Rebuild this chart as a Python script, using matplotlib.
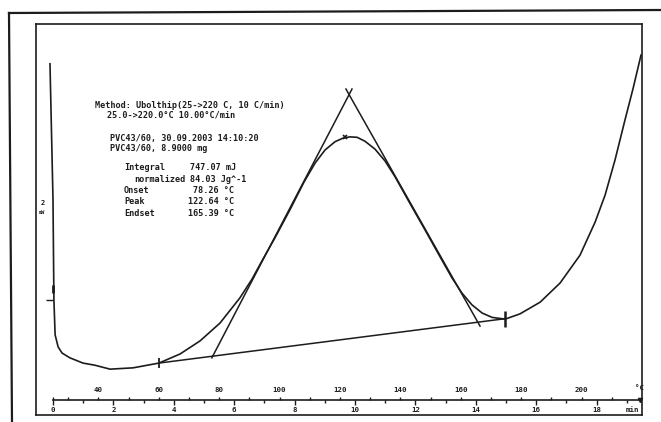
import matplotlib
matplotlib.use("Agg")
import matplotlib.pyplot as plt
from matplotlib.lines import Line2D

# ---------------- data (time in min, heat flow in mW) ----------------
time_min = [-0.10, 0.00, 0.03, 0.07, 0.17, 0.30, 0.56, 0.99, 1.39, 1.89, 2.65,
            3.51, 4.21, 4.87, 5.53, 6.19, 6.59, 6.92, 7.35, 7.85, 8.31, 8.68,
            9.01, 9.34, 9.60, 9.83, 10.07, 10.33, 10.66, 10.99, 11.32, 11.82,
            12.32, 12.81, 13.21, 13.54, 13.87, 14.21, 14.54, 14.97, 15.46, 16.13,
            16.79, 17.45, 17.95, 18.28, 18.61, 18.94, 19.21, 19.47]
heat_flow_mW = [5.43, 2.30, 0.00, -0.80, -1.08, -1.22, -1.33, -1.45, -1.50, -1.59, -1.56,
                -1.45, -1.24, -0.94, -0.53, 0.05, 0.48, 0.90, 1.43, 2.08, 2.71, 3.15,
                3.45, 3.64, 3.72, 3.75, 3.74, 3.65, 3.47, 3.20, 2.84, 2.22,
                1.61, 1.00, 0.51, 0.16, -0.11, -0.30, -0.40, -0.44, -0.32, -0.05,
                0.39, 1.03, 1.79, 2.41, 3.22, 4.14, 4.87, 5.63]

baseline_t = [3.51, 14.97]
baseline_mW = [-1.45, -0.43]
tangent_left_t = [5.26, 9.90]
tangent_left_mW = [-1.33, 4.85]
tangent_right_t = [9.70, 14.14]
tangent_right_mW = [4.85, -0.60]
peak_t, peak_mW = 9.67, 3.74
start_t, start_mW = 0.00, 0.00

time_ticks = list(range(0, 20, 2))
time_minor = list(range(1, 20, 2))
temp_ticks = [25] + list(range(30, 220, 10))
temp_labels = ["" if (T % 20 or T < 40 or T > 200) else str(T) for T in temp_ticks]

method_lines = ["Method: Ubolthip(25->220 C, 10 C/min)",
                "25.0->220.0\u00b0C 10.00\u00b0C/min"]
sample_lines = ["PVC43/60, 30.09.2003 14:10:20",
                "PVC43/60, 8.9000 mg"]
result_names = ["Integral", "normalized", "Onset", "Peak", "Endset"]
result_values = ["747.07 mJ", "84.03 Jg^-1", "78.26 \u00b0C", "122.64 \u00b0C", "165.39 \u00b0C"]

# ---------------- layout ----------------
W, H = 661, 422
fig = plt.figure(figsize=(W / 100, H / 100), dpi=100)
fig.patch.set_facecolor("white")

def fx(px):
    return px / W

def fy(py):
    return 1 - py / H

ink = "#1c1c1c"
mono = "DejaVu Sans Mono"

# outer frame
fig.add_artist(Line2D([fx(9), fx(12)], [fy(13), fy(422)], transform=fig.transFigure,
                      color=ink, lw=1.6))
fig.add_artist(Line2D([fx(9), fx(661)], [fy(13), fy(10)], transform=fig.transFigure,
                      color=ink, lw=1.6))

# main axes = inner frame
ax = fig.add_axes([fx(36), fy(415), fx(642) - fx(36), fy(24) - fy(415)])
xlim = (-0.563, 19.503)
ax.set_xlim(*xlim)
ax.set_ylim(-2.644, 6.345)
ax.set_xticks([])
ax.set_yticks([])
for s in ax.spines.values():
    s.set_color(ink)
    s.set_linewidth(1.2)

ax.plot(time_min, heat_flow_mW, color=ink, lw=1.2, solid_joinstyle="round")
ax.plot(baseline_t, baseline_mW, color=ink, lw=1.1)
ax.plot(tangent_left_t, tangent_left_mW, color=ink, lw=1.1)
ax.plot(tangent_right_t, tangent_right_mW, color=ink, lw=1.1)
ax.plot(baseline_t[0], baseline_mW[0], marker="|", ms=7, mew=1.3, color=ink)
ax.plot(baseline_t[1], baseline_mW[1], marker="|", ms=11, mew=1.8, color=ink)
ax.plot(peak_t, peak_mW, marker="x", ms=3.5, mew=1.2, color=ink)
ax.plot(start_t, start_mW, marker=0, ms=5, mew=1.0, color=ink)
ax.plot(start_t, start_mW + 0.25, marker="|", ms=6, mew=2.0, color=ink)

# scale bar label
fig.text(fx(43), fy(203), "2", fontsize=5, family=mono, weight="bold", ha="center",
         va="center", color=ink)
fig.text(fx(42), fy(212), "mW", fontsize=3.8, family=mono, ha="center", va="center", color=ink,
         weight="bold")

# annotation text block
fs = 6.1
fig.text(fx(95), fy(105), method_lines[0], fontsize=fs, family=mono, weight="bold",
         va="center", color=ink)
fig.text(fx(107), fy(115), method_lines[1], fontsize=fs, family=mono, weight="bold",
         va="center", color=ink)
fig.text(fx(110), fy(138), sample_lines[0], fontsize=fs, family=mono, weight="bold",
         va="center", color=ink)
fig.text(fx(110), fy(148), sample_lines[1], fontsize=fs, family=mono, weight="bold",
         va="center", color=ink)
name_x = [124, 134, 124, 124, 124]
val_x = [190, 190, 193, 188, 188]
row_y = [168, 179, 191, 202, 213]
for nm, vl, nx, vx, ry in zip(result_names, result_values, name_x, val_x, row_y):
    fig.text(fx(nx), fy(ry), nm, fontsize=fs, family=mono, weight="bold", va="center", color=ink)
    fig.text(fx(vx), fy(ry), vl, fontsize=fs, family=mono, weight="bold", va="center", color=ink)

# dual scale axis (time below, temperature above)
sax = fig.add_axes([fx(36), fy(400), fx(642) - fx(36), 1e-4])
sax.set_xlim(*xlim)
sax.patch.set_visible(False)
for k in ("top", "left", "right"):
    sax.spines[k].set_visible(False)
sax.spines["bottom"].set_bounds(0, 19.45)
sax.spines["bottom"].set_color(ink)
sax.spines["bottom"].set_linewidth(1.2)
sax.set_yticks([])
sax.set_xticks(time_ticks, labels=[str(t) for t in time_ticks])
sax.set_xticks(time_minor, minor=True)
sax.tick_params(axis="x", which="major", direction="out", length=3.6, width=1.0,
                pad=1.2, labelsize=5.3, colors=ink)
sax.tick_params(axis="x", which="minor", direction="out", length=2.0, width=1.0, colors=ink)
for lab in sax.get_xticklabels():
    lab.set_family(mono)
    lab.set_weight("bold")

tax = sax.secondary_xaxis("top", functions=(lambda t: 25 + 10 * t, lambda T: (T - 25) / 10))
tax.set_xticks(temp_ticks, labels=temp_labels)
tax.tick_params(axis="x", direction="out", length=2.2, width=1.0, pad=2.5, labelsize=5.3,
                colors=ink)
tax.spines["top"].set_visible(False)
for lab in tax.get_xticklabels():
    lab.set_family(mono)
    lab.set_weight("bold")

sax.plot(19.44, 0, marker="v", ms=3, color=ink, clip_on=False,
         transform=sax.get_xaxis_transform())
fig.text(fx(632), fy(410), "min", fontsize=5.3, family=mono, weight="bold", ha="center",
         va="center", color=ink)
fig.text(fx(639), fy(388), "\u00b0C", fontsize=5.3, family=mono, weight="bold", ha="center",
         va="center", color=ink)

fig.savefig("out.png", dpi=100, facecolor="white")
